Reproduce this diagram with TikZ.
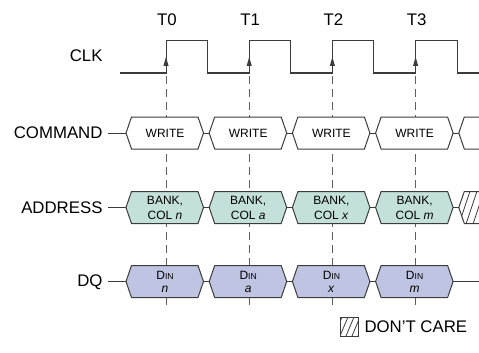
\documentclass[tikz,border=0pt]{standalone}
\usepackage{fontspec}
\setmainfont{Liberation Sans}
\definecolor{wire}{HTML}{3C3C3C}
\definecolor{dashgray}{HTML}{5E5E5E}
\definecolor{addrfill}{HTML}{C3E0DA}
\definecolor{dqfill}{HTML}{BFC4E2}
\newcommand{\bigsz}{\fontsize{16.8}{18}\selectfont}
\newcommand{\smsz}{\fontsize{12}{14}\selectfont}
\newcommand{\tinysz}{\fontsize{8.6}{10}\selectfont}
\newcommand{\busshape}[3]{% left point x, right point x, center y
  (#1,#3) -- (#1+5.5,#3-16) -- (#2-5.5,#3-16) -- (#2,#3) -- (#2-5.5,#3+16) -- (#1+5.5,#3+16) -- cycle}
\begin{document}
\begin{tikzpicture}[x=1pt,y=-1pt,line width=1pt,
  lbl/.style={font=\bigsz,text=black,inner sep=0pt,anchor=east},
  tlbl/.style={font=\bigsz,text=black,inner sep=0pt},
  intext/.style={font=\smsz,text=black,inner sep=0pt,anchor=base},
  wave/.style={draw=wire,line width=1pt},
  guide/.style={draw=dashgray,line width=0.9pt,dash pattern=on 8pt off 5pt}]
\useasboundingbox (0,0) rectangle (479,353);
% guide lines
\foreach \i in {0,1,2,3}{
  \pgfmathsetmacro{\e}{166+83.2*\i}
  \draw[guide] (\e,76) -- (\e,306);
}
% clock
\draw[wave] (120,73)
  \foreach \i in {0,1,2,3}{ -- ({166+83.2*\i},73) -- ({166+83.2*\i},41) -- ({207.5+83.2*\i},41) -- ({207.5+83.2*\i},73) } -- (479,73);
\foreach \i in {0,1,2,3}{
  \pgfmathsetmacro{\e}{166+83.2*\i}
  \fill[wire] (\e,57) -- (\e-2.6,66) -- (\e+2.6,66) -- cycle;
}
% labels
\node[tlbl] (t0) at (167,20) {T0};
\node[tlbl] (t1) at (250.2,20) {T1};
\node[tlbl] (t2) at (333.4,20) {T2};
\node[tlbl] (t3) at (416.6,20) {T3};
\node[lbl] (clk) at (103,56) {CLK};
\node[lbl] (cmd) at (103,133) {COMMAND};
\node[lbl] (addr) at (103,208) {ADDRESS};
\node[lbl] (dq) at (103,282) {DQ};
% lead-in lines
\foreach \y in {133,207.5,281.5}{ \draw[wave] (108,\y) -- (126,\y); }
% bus boxes
\foreach \i in {0,1,2,3}{
  \pgfmathsetmacro{\e}{166+83.2*\i}
  \pgfmathsetmacro{\xl}{\e-40}
  \pgfmathsetmacro{\xr}{\e+37.5}
  \pgfmathsetmacro{\xn}{\e+43.2}
  \filldraw[wave,fill=white] \busshape{\xl}{\xr}{133};
  \filldraw[wave,fill=addrfill] \busshape{\xl}{\xr}{207.5};
  \filldraw[wave,fill=dqfill] \busshape{\xl}{\xr}{281.5};
  \ifnum\i<3
    \draw[wave] (\xr,133) -- (\xn,133);
    \draw[wave] (\xr,207.5) -- (\xn,207.5);
    \draw[wave] (\xr,281.5) -- (\xn,281.5);
  \fi
}
\draw[wave] (453.1,133) -- (458.8,133);
\draw[wave] (453.1,207.5) -- (458.8,207.5);
\draw[wave] (453.1,281.5) -- (479,281.5);
% last command partial
\draw[wave] (480,117) -- (464.3,117) -- (458.8,133) -- (464.3,149) -- (480,149);
% last address partial (hatched)
\begin{scope}
  \clip (458.8,207.5) -- (464.3,191.5) -- (480,191.5) -- (480,223.5) -- (464.3,223.5) -- cycle;
  \foreach \x in {452,459,466,473,480}{ \draw[wire,line width=0.8pt] (\x,224) -- (\x+11,191); }
\end{scope}
\draw[wave] (480,191.5) -- (464.3,191.5) -- (458.8,207.5) -- (464.3,223.5) -- (480,223.5);
% texts
\foreach \i/\nm in {0/w0,1/w1,2/w2,3/w3}{
  \node[font=\smsz,inner sep=0pt] (\nm) at ({165+83.2*\i},133) {WRITE};
}
\foreach \i/\v/\nm in {0/n/a0,1/a/a1,2/x/a2,3/m/a3}{
  \node[intext] (\nm top) at ({165+83.2*\i},204.5) {BANK,};
  \node[intext] (\nm bot) at ({165+83.2*\i},219) {COL \textit{\v}};
}
\foreach \i/\v/\nm in {0/n/d0,1/a/d1,2/x/d2,3/m/d3}{
  \node[intext] (\nm top) at ({165+83.2*\i},279) {D{\tinysz IN}};
  \node[intext] (\nm bot) at ({165+83.2*\i},292) {\textit{\v}};
}
% legend
\begin{scope}
  \clip (340,317) rectangle (358,336);
  \foreach \x in {328,334,340,346,352,358}{ \draw[wire,line width=0.8pt] (\x,336) -- (\x+8,317); }
\end{scope}
\draw[wire,line width=0.9pt] (340,317) rectangle (358,336);
\node[font=\bigsz,inner sep=0pt,anchor=west] (dc) at (364,326.5) {DON'T CARE};
\end{tikzpicture}
\end{document}
